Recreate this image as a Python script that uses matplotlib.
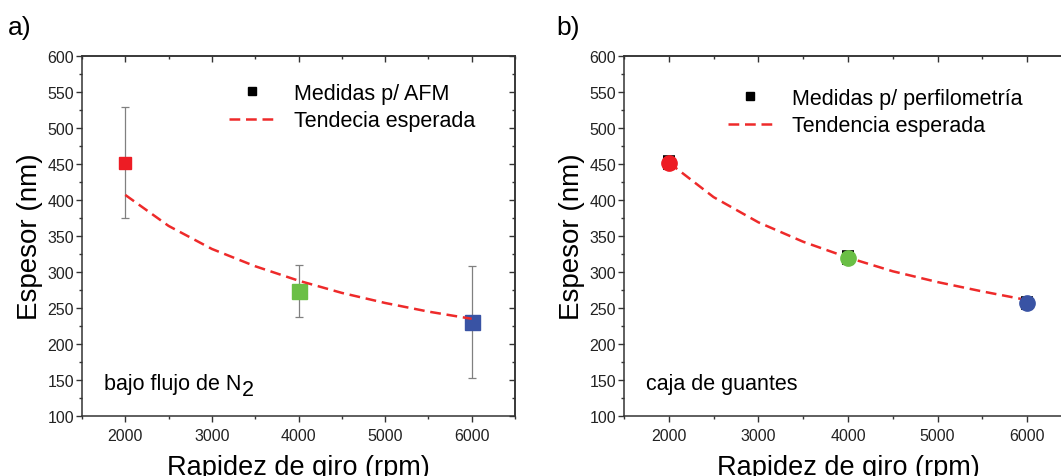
import matplotlib
matplotlib.use("Agg")
import matplotlib.pyplot as plt
from matplotlib.lines import Line2D
from matplotlib.ticker import MultipleLocator

plt.rcParams['font.family'] = ['Liberation Sans', 'DejaVu Sans']

# ---------------- data ----------------
rpm = [2000, 4000, 6000]
colors = ['#ed1c24', '#6abf45', '#3953a4']

# panel a (AFM)
afm_thick = [452, 274, 231]
afm_err = [77, 36, 78]
afm_trend_x = [2000, 2500, 3000, 3500, 4000, 4500, 5000, 5500, 6000]
afm_trend_y = [407, 364, 332, 308, 288, 271, 257, 245, 235]

# panel b (perfilometria)
perf_thick = [452, 320, 257]
perf_err = [8, 8, 7]
perf_trend_x = [2000, 2500, 3000, 3500, 4000, 4500, 5000, 5500, 6000]
perf_trend_y = [452, 404, 369, 342, 320, 301, 286, 273, 261]

xticks = [2000, 3000, 4000, 5000, 6000]
yticks = [100, 150, 200, 250, 300, 350, 400, 450, 500, 550, 600]

W, H = 1061, 477
fig = plt.figure(figsize=(W / 100, H / 100), dpi=100)

def px(l, b, w, h):
    return [l / W, (H - b) / H, w / W, h / H]

axa = fig.add_axes(px(82, 417, 433, 360))
axb = fig.add_axes(px(624, 417, 448, 360))

trend_col = '#ee2a2a'
spine_col = '#333333'
DASH = (4.3, 2.3)
TLW = 1.8

def style(ax, right_spine=True):
    ax.set_xlim(1500, 6500)
    ax.set_ylim(100, 600)
    ax.set_xticks(xticks)
    ax.set_yticks(yticks)
    ax.xaxis.set_minor_locator(MultipleLocator(500))
    ax.yaxis.set_minor_locator(MultipleLocator(25))
    for s in ax.spines.values():
        s.set_linewidth(1.1)
        s.set_color(spine_col)
    ax.tick_params(which='both', direction='out', color=spine_col, width=1.0,
                   labelsize=11.5, labelcolor='#222222')
    ax.tick_params(which='major', length=4.3)
    ax.tick_params(which='minor', length=2.2)
    ax.tick_params(axis='x', which='major', pad=4)
    ax.tick_params(axis='y', which='major', pad=1.5)
    # top and right ticks pointing in
    sec = ax.secondary_xaxis('top')
    sec.set_xticks(xticks)
    sec.xaxis.set_minor_locator(MultipleLocator(500))
    sec.tick_params(which='both', direction='in', color=spine_col, width=1.0, labeltop=False)
    sec.tick_params(which='major', length=4.3)
    sec.tick_params(which='minor', length=2.2)
    sec.spines['top'].set_linewidth(1.1)
    sec.spines['top'].set_color(spine_col)
    if right_spine:
        sry = ax.secondary_yaxis('right')
        sry.set_yticks(yticks)
        sry.yaxis.set_minor_locator(MultipleLocator(25))
        sry.tick_params(which='both', direction='in', color=spine_col, width=1.0, labelright=False)
        sry.tick_params(which='major', length=4.3)
        sry.tick_params(which='minor', length=2.2)
        sry.spines['right'].set_linewidth(1.1)
        sry.spines['right'].set_color(spine_col)
    ax.set_xlabel('Rapidez de giro (rpm)', fontsize=19.5, labelpad=8)
    ax.set_ylabel('Espesor (nm)', fontsize=20, labelpad=3)

style(axa)
style(axb)

# ---------- panel a ----------
sizes_a = [8.6, 10.8, 10.8]
for x, y, e, c, ms in zip(rpm, afm_thick, afm_err, colors, sizes_a):
    axa.errorbar([x], [y], yerr=[e], fmt='s', color=c, ms=ms, mec=c,
                 ecolor='#808080', elinewidth=0.9, capsize=2.6, capthick=0.9, zorder=2)
axa.plot(afm_trend_x, afm_trend_y, color=trend_col, lw=TLW, dashes=DASH, zorder=3)

handles_a = [Line2D([], [], marker='s', color='black', ls='none', ms=6),
             Line2D([], [], color=trend_col, lw=TLW, dashes=DASH)]
axa.legend(handles_a, ['Medidas p/ AFM', 'Tendecia esperada'], frameon=False,
           loc='upper left', bbox_to_anchor=(0.32, 0.95), fontsize=15.5,
           handlelength=2.1, handletextpad=0.9, labelspacing=0.3, borderaxespad=0)

t = axa.text(0.051, 0.09, 'bajo flujo de N', transform=axa.transAxes,
             fontsize=15.5, va='center', ha='left')
axa.annotate('2', xy=(1.0, 0.0), xycoords=t, xytext=(0.5, -4.5), textcoords='offset points',
             fontsize=15.5, va='bottom', ha='left')

# ---------- panel b ----------
axb.plot(perf_trend_x, perf_trend_y, color=trend_col, lw=TLW, dashes=DASH, zorder=2)
for x, y, e, c in zip(rpm, perf_thick, perf_err, colors):
    axb.errorbar([x], [y], yerr=[e], fmt='none', ecolor='black', elinewidth=1.5,
                 capsize=4, capthick=2.6, zorder=3)
    axb.plot([x], [y], 'o', color=c, ms=11, mec=c, zorder=4)

handles_b = [Line2D([], [], marker='s', color='black', ls='none', ms=6),
             Line2D([], [], color=trend_col, lw=TLW, dashes=DASH)]
axb.legend(handles_b, ['Medidas p/ perfilometría', 'Tendencia esperada'], frameon=False,
           loc='upper left', bbox_to_anchor=(0.212, 0.935), fontsize=15.5,
           handlelength=2.1, handletextpad=0.9, labelspacing=0.3, borderaxespad=0)

axb.text(0.049, 0.09, 'caja de guantes', transform=axb.transAxes,
         fontsize=15.5, va='center', ha='left')

# panel labels
fig.text(8 / W, 1 - 28 / H, 'a)', fontsize=19, va='center', ha='left')
fig.text(556 / W, 1 - 28 / H, 'b)', fontsize=19, va='center', ha='left')

fig.savefig('out.png', dpi=100)
